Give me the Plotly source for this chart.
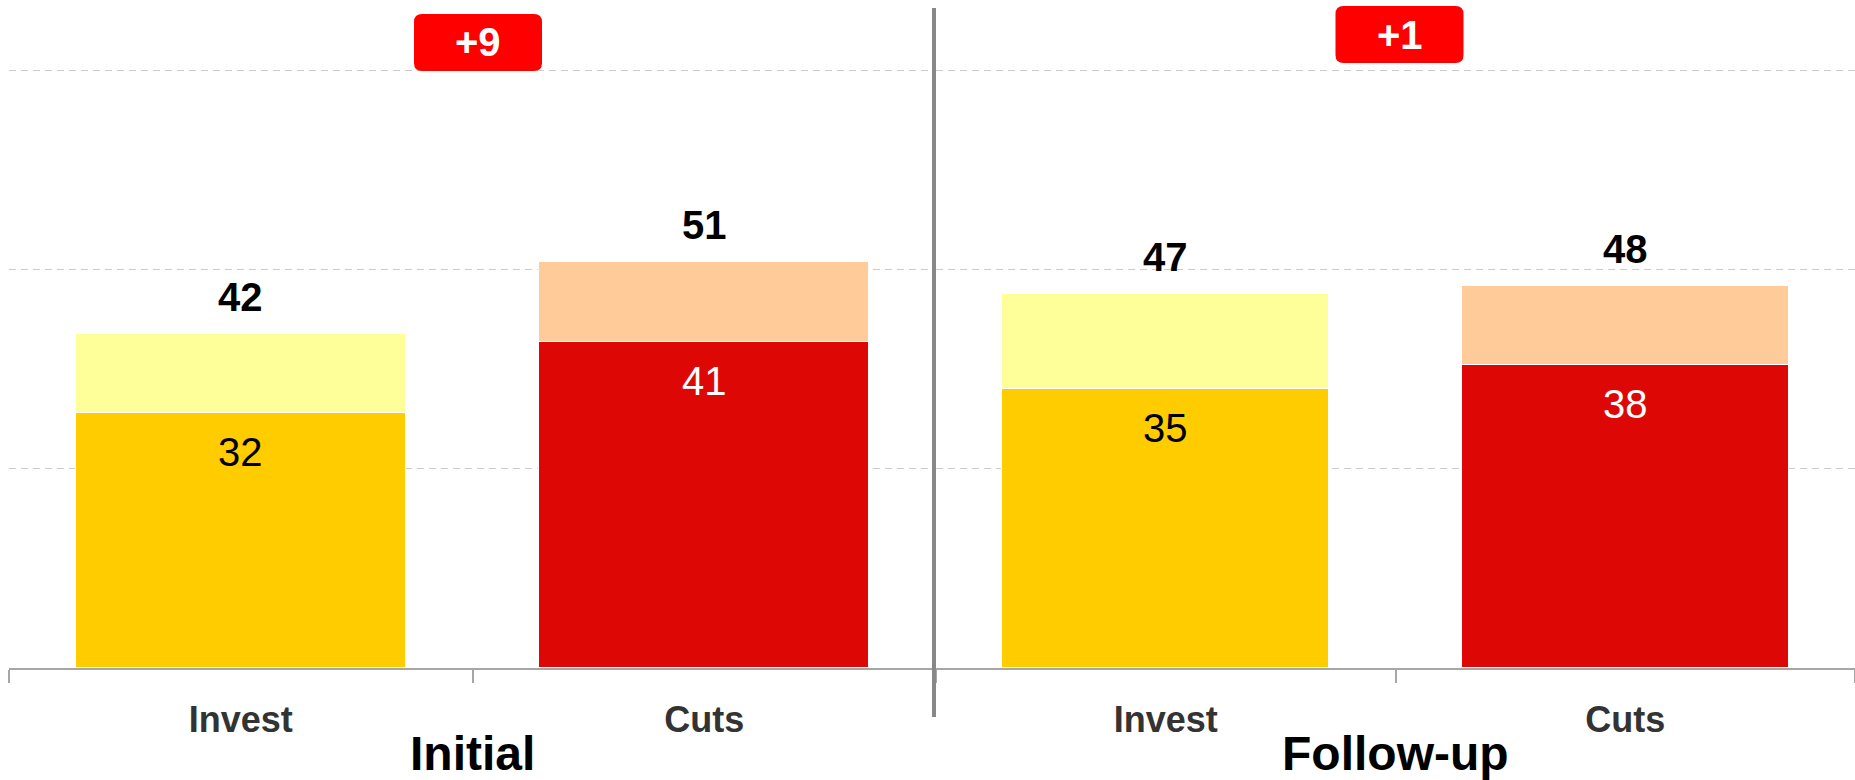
import plotly.graph_objects as go

# Survey shares (percent) per response, before and after
categories = ["Invest", "Cuts"]
phases = ["Initial", "Follow-up"]
core_initial = [32, 41]
total_initial = [42, 51]
core_followup = [35, 38]
total_followup = [47, 48]

core_colors = ["#FFCC00", "#DD0805"]
extra_colors = ["#FFFF99", "#FFCC99"]
core_text_colors = ["#000000", "#FFFFFF"]

FONT = "Arial, Liberation Sans, sans-serif"
W, H = 1855, 780
ML, MB = 9, 112
PLOT_W, PLOT_H = W - ML, H - MB
SPLIT = (936 - ML) / PLOT_W
Y_MAX = 83.9


def px_x(x):
    return (x - ML) / PLOT_W


def px_y(y):
    return (PLOT_H - y) / PLOT_H


fig = go.Figure()
annotations = []
shapes = []

panels = [
    ("x", core_initial, total_initial, (0.0, SPLIT)),
    ("x2", core_followup, total_followup, (SPLIT, 1.0)),
]

for (xref, core, total, dom), phase in zip(panels, phases):
    extra = [t - c for t, c in zip(total, core)]
    fig.add_trace(go.Bar(
        x=categories, y=core, xaxis=xref, yaxis="y", width=0.712,
        marker=dict(color=core_colors, line=dict(color="white", width=1)),
        hoverinfo="skip", showlegend=False,
    ))
    fig.add_trace(go.Bar(
        x=categories, y=extra, xaxis=xref, yaxis="y", width=0.712,
        marker=dict(color=extra_colors, line=dict(color="white", width=1)),
        hoverinfo="skip", showlegend=False,
    ))
    for cat, c, t, tc in zip(categories, core, total, core_text_colors):
        annotations.append(dict(
            x=cat, y=t, xref=xref, yref="y", text=f"<b>{t}</b>",
            showarrow=False, yanchor="middle", yshift=37,
            font=dict(family=FONT, size=40, color="#000000"),
        ))
        annotations.append(dict(
            x=cat, y=c, xref=xref, yref="y", text=str(c),
            showarrow=False, yanchor="middle", yshift=-39,
            font=dict(family=FONT, size=40, color=tc),
        ))

    # group title below the category labels
    cx = (dom[0] + dom[1]) / 2
    annotations.append(dict(
        x=cx, y=px_y(753), xref="paper", yref="paper", text=f"<b>{phase}</b>",
        showarrow=False, xanchor="center", yanchor="middle",
        font=dict(family=FONT, size=48, color="#000000"),
    ))

# change badges above each panel
badges = [(478, 42.5, total_initial), (1399.5, 34.5, total_followup)]
for bx, by, total in badges:
    diff = total[1] - total[0]
    w2, h2, r = 64, 28.5, 8
    x0, x1 = px_x(bx - w2), px_x(bx + w2)
    y0, y1 = px_y(by + h2), px_y(by - h2)
    rx, ry = r / PLOT_W, r / PLOT_H
    path = (
        f"M {x0 + rx},{y0} L {x1 - rx},{y0} Q {x1},{y0} {x1},{y0 + ry} "
        f"L {x1},{y1 - ry} Q {x1},{y1} {x1 - rx},{y1} "
        f"L {x0 + rx},{y1} Q {x0},{y1} {x0},{y1 - ry} "
        f"L {x0},{y0 + ry} Q {x0},{y0} {x0 + rx},{y0} Z"
    )
    shapes.append(dict(type="path", path=path, xref="paper", yref="paper",
                       fillcolor="#FF0000", line=dict(width=0), layer="above"))
    annotations.append(dict(
        x=px_x(bx), y=px_y(by), xref="paper", yref="paper",
        text=f"<b>{diff:+d}</b>", showarrow=False,
        xanchor="center", yanchor="middle",
        font=dict(family=FONT, size=40, color="#FFFFFF"),
    ))

# vertical divider between the panels
shapes.append(dict(type="line", xref="paper", yref="paper",
                   x0=px_x(934), x1=px_x(934), y0=px_y(717), y1=px_y(8),
                   line=dict(color="#888888", width=4), layer="above"))

xaxis_common = dict(
    type="category", showline=True, linecolor="#A6A6A6", linewidth=2,
    ticks="outside", ticklen=13, tickwidth=1.5, tickcolor="#A6A6A6",
    tickson="boundaries", showgrid=False, zeroline=False,
    tickfont=dict(family=FONT, size=36, color="#333333"),
    ticklabelstandoff=19, fixedrange=True,
)

fig.update_layout(
    width=W, height=H,
    margin=dict(l=ML, r=0, t=0, b=MB, pad=0),
    paper_bgcolor="white", plot_bgcolor="white",
    barmode="stack", bargap=0,
    font=dict(family=FONT),
    xaxis=dict(domain=[0, SPLIT], anchor="y", **xaxis_common),
    xaxis2=dict(domain=[SPLIT, 1], anchor="y", **xaxis_common),
    yaxis=dict(
        range=[0, Y_MAX], tickvals=[25, 50, 75], showticklabels=False,
        showgrid=True, gridcolor="#CCCCCC", gridwidth=1, griddash="7px,5px",
        zeroline=False, showline=False, ticks="", fixedrange=True,
    ),
    annotations=annotations,
    shapes=shapes,
)

fig.update_xaxes(tickvals=categories, ticktext=[f"<b>{c}</b>" for c in categories])

fig.write_html("out.html")
